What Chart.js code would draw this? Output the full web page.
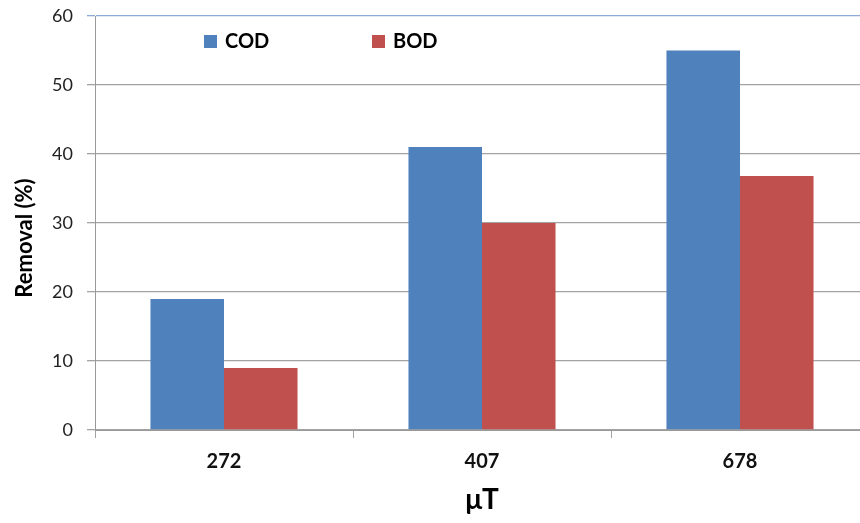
<!DOCTYPE html>
<html>
<head>
<meta charset="utf-8">
<script src="https://cdn.jsdelivr.net/npm/chart.js@4.4.0/dist/chart.umd.min.js"></script>
<style>
  html, body { margin: 0; padding: 0; background: #fff; overflow: hidden; }
  #wrap { width: 870px; height: 523px; }
</style>
</head>
<body>
<div id="wrap"><canvas id="removalChart" width="870" height="523"></canvas></div>
<script>
// data
const fieldLevels = ['272', '407', '678'];
const codRemoval = [19, 41, 55];
const bodRemoval = [9, 30, 36.8];
const yTicks = [0, 10, 20, 30, 40, 50, 60];

const gridGray = '#a3a3a3';

// legend sits inside the plot, like the excel original
const insideLegend = {
  id: 'insideLegend',
  afterDraw(chart) {
    const ctx = chart.ctx;
    const xs = [204, 372];
    ctx.save();
    ctx.font = 'bold 20px Lato';
    ctx.textBaseline = 'middle';
    chart.data.datasets.forEach((ds, i) => {
      ctx.fillStyle = ds.backgroundColor;
      ctx.fillRect(xs[i], 35, 13, 13);
      ctx.fillStyle = '#000';
      ctx.fillText(ds.label, xs[i] + 21, 42);
    });
    ctx.restore();
  }
};

// y title is a bit below the plot middle in the original
const yTitle = {
  id: 'yTitle',
  afterDraw(chart) {
    const ctx = chart.ctx;
    ctx.save();
    ctx.translate(25, 238);
    ctx.rotate(-Math.PI / 2);
    ctx.font = 'bold 22px Lato';
    ctx.fillStyle = '#000';
    ctx.textAlign = 'center';
    ctx.textBaseline = 'middle';
    ctx.fillText('Removal (%)', 0, 0);
    ctx.restore();
  }
};

const ctx = document.getElementById('removalChart').getContext('2d');
new Chart(ctx, {
  type: 'bar',
  data: {
    labels: fieldLevels,
    datasets: [
      { label: 'COD', data: codRemoval, backgroundColor: '#4f81bd' },
      { label: 'BOD', data: bodRemoval, backgroundColor: '#c0504d' }
    ]
  },
  options: {
    responsive: false,
    animation: false,
    devicePixelRatio: 1,
    categoryPercentage: 0.57,
    barPercentage: 1,
    layout: { padding: { top: 16, right: 1, left: 0, bottom: 0 } },
    plugins: {
      legend: { display: false },
      tooltip: { enabled: false }
    },
    scales: {
      x: {
        afterFit(scale) { scale.height = 93; },
        grid: {
          offset: true,
          drawOnChartArea: false,
          color: gridGray,
          tickLength: 8
        },
        border: { color: '#999', width: 1 },
        ticks: {
          color: '#111',
          padding: 12,
          font: { family: 'Lato', size: 20, weight: 'bold' }
        },
        title: {
          display: true,
          text: 'μT',
          color: '#000',
          font: { family: 'Lato', size: 28, weight: 'bold' },
          padding: { top: 0, bottom: 6 }
        }
      },
      y: {
        min: 0,
        max: 60,
        afterFit(scale) {
          scale.width = 95;
          scale.paddingTop = 0;
          scale.paddingBottom = 0;
        },
        afterBuildTicks(scale) { scale.ticks = yTicks.map(v => ({ value: v })); },
        grid: {
          color: c => (c.tick && c.tick.value === 60) ? '#8eabd8' : gridGray,
          lineWidth: 1.3,
          tickLength: 8
        },
        border: { color: '#999', width: 1 },
        ticks: {
          color: '#222',
          padding: 14,
          font: { family: 'Lato', size: 18 }
        }
      }
    }
  },
  plugins: [insideLegend, yTitle]
});
</script>
</body>
</html>
